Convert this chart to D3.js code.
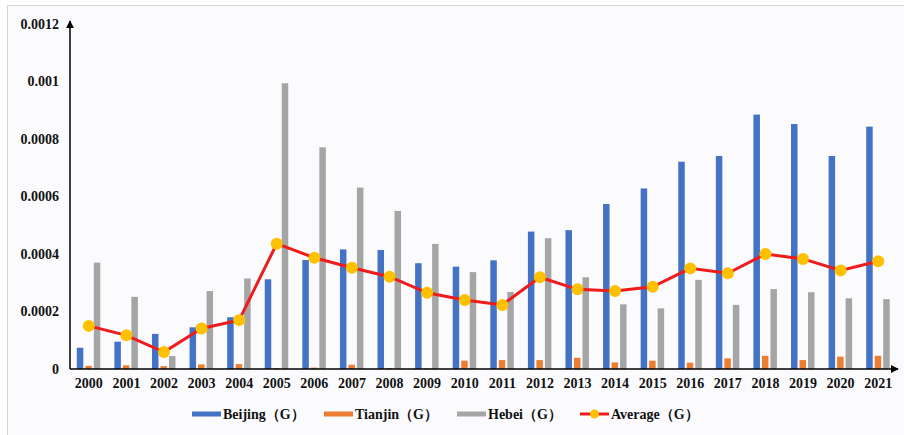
<!DOCTYPE html>
<html>
<head>
<meta charset="utf-8">
<script src="https://cdn.jsdelivr.net/npm/d3@7"></script>
<style>
  body { margin: 0; background: #ffffff; }
</style>
</head>
<body>
<div id="container"></div>
<script>
// Years on the x axis
var years = ["2000","2001","2002","2003","2004","2005","2006","2007","2008","2009","2010",
             "2011","2012","2013","2014","2015","2016","2017","2018","2019","2020","2021"];

// Series values
var beijing = [0.000074, 0.000095, 0.000122, 0.000145, 0.00018, 0.000312, 0.000379, 0.000416, 0.000414, 0.000368, 0.000356,
               0.000378, 0.000478, 0.000483, 0.000574, 0.000628, 0.000721, 0.000741, 0.000885, 0.000852, 0.000741, 0.000843];
var tianjin = [0.000011, 0.000013, 0.00001, 0.000016, 0.000017, 0.000003, 0.000005, 0.000015, 0.000003, 0.000002, 0.000029,
               0.000031, 0.000031, 0.000039, 0.000023, 0.000029, 0.000022, 0.000037, 0.000046, 0.000031, 0.000043, 0.000046];
var hebei = [0.00037, 0.000251, 0.000045, 0.000271, 0.000315, 0.000994, 0.000771, 0.000631, 0.00055, 0.000435, 0.000337,
             0.000268, 0.000455, 0.000319, 0.000225, 0.000211, 0.00031, 0.000223, 0.000278, 0.000267, 0.000246, 0.000243];
var average = [0.00015, 0.000117, 0.000059, 0.000141, 0.00017, 0.000436, 0.000387, 0.000352, 0.000321, 0.000265, 0.00024,
               0.000223, 0.000319, 0.000277, 0.000271, 0.000286, 0.00035, 0.000333, 0.0004, 0.000383, 0.000343, 0.000375];

var yTicks = [0, 0.0002, 0.0004, 0.0006, 0.0008, 0.001, 0.0012];
var seriesNames = ["Beijing（G）", "Tianjin（G）", "Hebei（G）", "Average（G）"];
var colors = ["#4472c4", "#ed7d31", "#a5a5a5", "#ee1c1c", "#ffc000"];
var font = "'Liberation Serif', 'Times New Roman', serif";

var width = 904, height = 435;
var margin = {left: 70, top: 24, right: 7, bottom: 66};

var svg = d3.select("#container").append("svg")
            .attr("width", width)
            .attr("height", height);

// Light frame, only its left and top edges are in view
svg.append("rect")
   .attr("x", 7.5).attr("y", 5.5)
   .attr("width", 920).attr("height", 450)
   .attr("fill", "#fbfbfe")
   .attr("stroke", "#d4d4d4");

var xScale = d3.scaleBand()
               .domain(years)
               .range([margin.left, width - margin.right]);

var yScale = d3.scaleLinear()
               .domain([0, 0.0012])
               .range([height - margin.bottom, margin.top]);

// Offsets of the three bars inside one year
var slot = 8.5, barW = 6.5;
var series = [beijing, tianjin, hebei];

series.forEach(function(vals, s) {
  svg.append("g").selectAll("rect")
     .data(vals)
     .enter()
     .append("rect")
     .attr("x", (d, i) => xScale(years[i]) + xScale.bandwidth() / 2 - 12 + s * slot)
     .attr("y", (d) => yScale(d))
     .attr("width", barW)
     .attr("height", (d) => yScale(0) - yScale(d))
     .attr("fill", colors[s]);
});

// Average line with markers
var line = d3.line()
             .x((d, i) => xScale(years[i]) + xScale.bandwidth() / 2)
             .y((d) => yScale(d));

svg.append("path")
   .datum(average)
   .attr("d", line)
   .attr("fill", "none")
   .attr("stroke", colors[3])
   .attr("stroke-width", 3);

svg.append("g").selectAll("circle")
   .data(average)
   .enter()
   .append("circle")
   .attr("cx", (d, i) => xScale(years[i]) + xScale.bandwidth() / 2)
   .attr("cy", (d) => yScale(d))
   .attr("r", 6)
   .attr("fill", colors[4]);

// Axes with arrowheads
var defs = svg.append("defs");
defs.append("marker")
    .attr("id", "arrow")
    .attr("viewBox", "0 0 10 10")
    .attr("refX", 9).attr("refY", 5)
    .attr("markerWidth", 8).attr("markerHeight", 8)
    .attr("markerUnits", "userSpaceOnUse")
    .attr("orient", "auto")
    .append("path")
    .attr("d", "M0,0L10,5L0,10z")
    .attr("fill", "#000");

svg.append("line")
   .attr("x1", margin.left).attr("y1", yScale(0))
   .attr("x2", margin.left).attr("y2", 21)
   .attr("stroke", "#000").attr("stroke-width", 1.5)
   .attr("marker-end", "url(#arrow)");

svg.append("line")
   .attr("x1", margin.left).attr("y1", yScale(0))
   .attr("x2", 898).attr("y2", yScale(0))
   .attr("stroke", "#000").attr("stroke-width", 1.5)
   .attr("marker-end", "url(#arrow)");

var xAxis = d3.axisBottom(xScale).tickSize(0).tickPadding(9);
var gx = svg.append("g")
            .attr("transform", "translate(0," + yScale(0) + ")")
            .call(xAxis);
gx.select(".domain").remove();
gx.selectAll("text")
  .attr("font-size", 14)
  .attr("font-weight", "bold")
  .attr("fill", "#111")
  .style("font-family", font);

var yAxis = d3.axisLeft(yScale)
              .tickValues(yTicks)
              .tickSize(0)
              .tickPadding(11)
              .tickFormat((d) => d === 0 ? "0" : String(+d.toPrecision(2)));
var gy = svg.append("g")
            .attr("transform", "translate(" + margin.left + ",0)")
            .call(yAxis);
gy.select(".domain").remove();
gy.selectAll("text")
  .attr("font-size", 14)
  .attr("font-weight", "bold")
  .attr("fill", "#111")
  .style("font-family", font);

// Legend
var legendX = [192, 324, 457, 580];
var legend = svg.append("g");
seriesNames.forEach(function(name, i) {
  var g = legend.append("g").attr("transform", "translate(" + legendX[i] + ",414)");
  if (i < 3) {
    g.append("rect").attr("x", 0).attr("y", -2.5).attr("width", 29).attr("height", 5).attr("fill", colors[i]);
  } else {
    g.append("line").attr("x1", 0).attr("x2", 29).attr("y1", 0).attr("y2", 0)
     .attr("stroke", colors[3]).attr("stroke-width", 3);
    g.append("circle").attr("cx", 14.5).attr("cy", 0).attr("r", 4.5).attr("fill", colors[4]);
  }
  g.append("text")
   .attr("x", 31)
   .attr("y", 5)
   .attr("font-size", 14)
   .attr("font-weight", "bold")
   .attr("fill", "#111")
   .style("font-family", font)
   .text(name);
});
</script>
</body>
</html>
